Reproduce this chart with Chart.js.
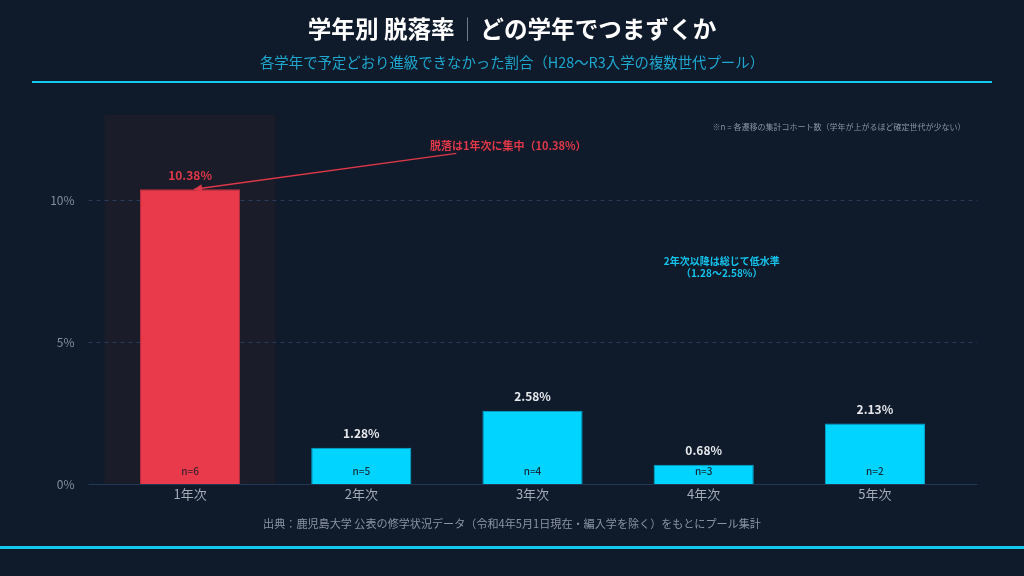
<!DOCTYPE html>
<html lang="ja">
<head>
<meta charset="utf-8">
<script src="https://cdn.jsdelivr.net/npm/chart.js@4.4.1/dist/chart.umd.min.js"></script>
<style>
  html, body { margin: 0; padding: 0; background: #0f1a2a; }
  #wrap { position: relative; width: 1024px; height: 576px; overflow: hidden; background: #0f1a2a;
          font-family: "Noto Sans CJK JP", "Noto Sans", sans-serif; }
  canvas { position: absolute; left: 0; top: 0; }
  .t { position: absolute; left: 512px; transform: translate(-50%, -50%); white-space: nowrap; }
  #title { top: 28px; font-size: 23.6px; font-weight: 700; color: #ffffff; }
  #title .sep { color: #7d8796; font-weight: 300; margin: 0 1px; }
  #subtitle { top: 61px; font-size: 14.4px; color: #1ea7cf; }
  #footer { top: 523px; font-size: 11.1px; color: #8a94a3; }
  #topline { position: absolute; left: 32px; width: 960px; top: 81px; height: 2px; background: #14c8ee; }
  #botline { position: absolute; left: 0; width: 1024px; top: 546px; height: 3px; background: #14c8ee; }
</style>
</head>
<body>
<div id="wrap">
  <canvas id="c" width="1024" height="576"></canvas>
  <div id="title" class="t">学年別 脱落率<span class="sep">｜</span>どの学年でつまずくか</div>
  <div id="subtitle" class="t">各学年で予定どおり進級できなかった割合（H28〜R3入学の複数世代プール）</div>
  <div id="topline"></div>
  <div id="footer" class="t">出典：鹿児島大学 公表の修学状況データ（令和4年5月1日現在・編入学を除く）をもとにプール集計</div>
  <div id="botline"></div>
</div>
<script>
// ---- data ----
const categories = ["1年次", "2年次", "3年次", "4年次", "5年次"];
const dropoutRates = [10.38, 1.28, 2.58, 0.68, 2.13];
const cohortCounts = [6, 5, 4, 3, 2];
const yTickValues = [0, 5, 10];
const yMax = 13;
const noteTopRight = "※n = 各遷移の集計コホート数（学年が上がるほど確定世代が少ない）";
const calloutText = "脱落は1年次に集中（10.38%）";
const lowNoteLines = ["2年次以降は総じて低水準", "（1.28〜2.58%）"];

// ---- styles ----
const RED = "#e83a4a";
const CYAN = "#00d4ff";
const FONT = '"Noto Sans CJK JP", "Noto Sans", sans-serif';

const decorPlugin = {
  id: "decor",
  beforeDatasetsDraw(chart) {
    const { ctx, chartArea, scales } = chart;
    const x = scales.x, y = scales.y;
    const band = x.getPixelForValue(1) - x.getPixelForValue(0);
    ctx.save();
    ctx.fillStyle = "#1a1c29";
    const cx = x.getPixelForValue(0);
    ctx.fillRect(cx - band / 2, chartArea.top, band, chartArea.bottom - chartArea.top);
    const gl = chartArea.left - 16, gr = chartArea.right + 17;
    ctx.lineWidth = 1;
    yTickValues.forEach(v => {
      const py = Math.round(y.getPixelForValue(v)) + 0.5;
      ctx.beginPath();
      if (v === 0) {
        ctx.setLineDash([]);
        ctx.strokeStyle = "#233656";
      } else {
        ctx.setLineDash([4, 4]);
        ctx.strokeStyle = "#2a3b58";
      }
      ctx.moveTo(gl, py);
      ctx.lineTo(gr, py);
      ctx.stroke();
    });
    ctx.restore();
  },
  afterDatasetsDraw(chart) {
    const { ctx, chartArea, scales } = chart;
    const x = scales.x, y = scales.y;
    const meta = chart.getDatasetMeta(0);
    ctx.save();
    ctx.textAlign = "center";
    ctx.textBaseline = "middle";
    meta.data.forEach((bar, i) => {
      ctx.font = "bold 12px " + FONT;
      ctx.fillStyle = i === 0 ? "#e03848" : "#e6e9ee";
      ctx.fillText(dropoutRates[i].toFixed(2) + "%", bar.x, bar.y - 14);
      ctx.font = "500 10px " + FONT;
      ctx.fillStyle = i === 0 ? "#3a1f2c" : "#14293a";
      ctx.fillText("n=" + cohortCounts[i], bar.x, bar.base - 13);
    });

    // callout
    const first = meta.data[0];
    const lx = x.getPixelForValue(1) + 147;
    const ly = y.getPixelForValue(11.93);
    ctx.font = "bold 11px " + FONT;
    ctx.fillStyle = "#e03848";
    ctx.fillText(calloutText, lx, ly);
    const sx = lx - 52, sy = ly + 8;
    const tx = first.x + 4, ty = first.y;
    ctx.strokeStyle = "#e03848";
    ctx.lineWidth = 1.5;
    ctx.beginPath();
    ctx.moveTo(sx, sy);
    ctx.lineTo(tx, ty);
    ctx.stroke();
    const ang = Math.atan2(ty - sy, tx - sx);
    ctx.fillStyle = "#e03848";
    ctx.beginPath();
    ctx.moveTo(tx, ty);
    ctx.lineTo(tx - 8 * Math.cos(ang) + 4 * Math.sin(ang), ty - 8 * Math.sin(ang) - 4 * Math.cos(ang));
    ctx.lineTo(tx - 8 * Math.cos(ang) - 4 * Math.sin(ang), ty - 8 * Math.sin(ang) + 4 * Math.cos(ang));
    ctx.closePath();
    ctx.fill();

    // low-level note
    ctx.font = "bold 10px " + FONT;
    ctx.fillStyle = "#14c4ec";
    const nx = x.getPixelForValue(3) + 18;
    ctx.fillText(lowNoteLines[0], nx, y.getPixelForValue(7.85));
    ctx.fillText(lowNoteLines[1], nx, y.getPixelForValue(7.43));

    // top-right note
    ctx.font = "8px " + FONT;
    ctx.fillStyle = "#8a94a3";
    ctx.textAlign = "right";
    ctx.fillText(noteTopRight, chartArea.right + 5, chartArea.top + 12);
    ctx.restore();
  }
};

new Chart(document.getElementById("c"), {
  type: "bar",
  data: {
    labels: categories,
    datasets: [{
      data: dropoutRates,
      backgroundColor: c => c.dataIndex === 0 ? RED : CYAN,
      borderColor: c => c.dataIndex === 0 ? "#c42e3d" : "#00a9cf",
      borderWidth: 1,
      borderSkipped: "bottom",
      categoryPercentage: 0.9,
      barPercentage: 0.65
    }]
  },
  options: {
    responsive: false,
    animation: false,
    devicePixelRatio: 1,
    layout: { padding: { left: 0, right: 63.5, top: 115, bottom: 62 } },
    plugins: { legend: { display: false }, tooltip: { enabled: false } },
    scales: {
      x: {
        grid: { display: false },
        border: { display: false },
        ticks: { color: "#a3abb7", font: { family: FONT, size: 13 }, padding: -6 },
        afterFit: s => { s.height = 30; }
      },
      y: {
        min: 0,
        max: yMax,
        grid: { display: false },
        border: { display: false },
        afterFit: s => { s.width = 104.5; },
        afterBuildTicks: s => { s.ticks = yTickValues.map(v => ({ value: v })); },
        ticks: {
          color: "#838d9c",
          font: { family: FONT, size: 12 },
          padding: 22,
          callback: v => v + "%"
        }
      }
    }
  },
  plugins: [decorPlugin]
});
</script>
</body>
</html>
